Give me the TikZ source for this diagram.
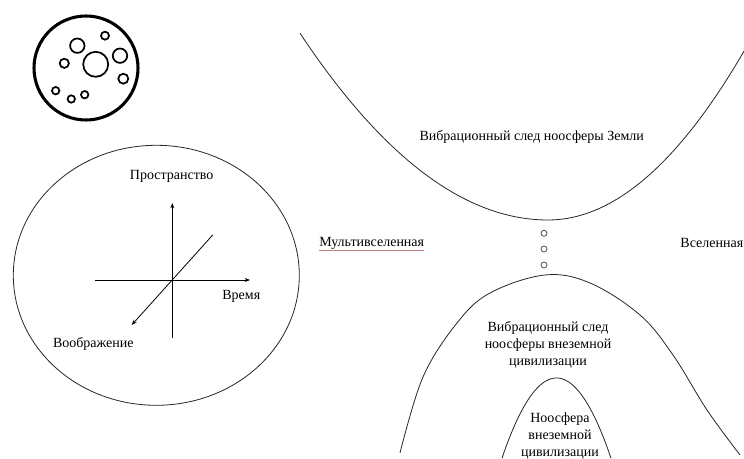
\documentclass[tikz,border=0pt]{standalone}
\usepackage{fontspec}
\setmainfont{Liberation Serif}
\usetikzlibrary{arrows.meta,calc}
\tikzset{
  lbl/.style={inner sep=0pt, font=\fontsize{10.5}{12}\selectfont},
  mlbl/.style={lbl, align=center, font=\fontsize{10.5}{12.8}\selectfont},
  thinline/.style={draw=black!85, line width=0.6pt},
  axis/.style={draw=black, line width=0.6pt},
  axisarrow/.style={axis, -{Stealth[length=4pt,width=3pt]}},
  bubble/.style={draw=black, line width=1.3pt},
  dotc/.style={draw=black!70, line width=0.6pt}
}
\begin{document}
\begin{tikzpicture}[x=0.75pt, y=-0.75pt]
\useasboundingbox (0,0) rectangle (744,459);
% small multiverse circle
\draw[draw=black, line width=2.3pt] (86,68) circle (52);
\draw[bubble] (95.7,64.3) circle (12.5);
\draw[bubble] (77.3,45.7) circle (7.2);
\draw[bubble] (105,35.7) circle (4);
\draw[bubble] (120,55.7) circle (7.2);
\draw[bubble] (64.3,63.3) circle (4.6);
\draw[bubble] (123.3,78.7) circle (5);
\draw[bubble] (55.7,90.7) circle (3.7);
\draw[bubble] (71.3,99) circle (3.7);
\draw[bubble] (84.7,94.7) circle (3.7);
% big ellipse
\draw[thinline] (156.3,275.3) ellipse (143 and 130);
% axes
\coordinate (O) at (172.3,280);
\coordinate (ytop) at (172.3,203);
\coordinate (ybot) at (172.3,338.3);
\coordinate (xl) at (95,280);
\coordinate (xr) at (250,280);
\coordinate (dtop) at (212.7,235);
\coordinate (dbot) at (131.7,325);
\draw[axisarrow] (ybot) -- (ytop);
\draw[axisarrow] (xl) -- (xr);
\draw[axisarrow] (dtop) -- (dbot);
\node[lbl] (space) at (171.7,176) {Пространство};
\node[lbl] (time) at (241.3,296.7) {Время};
\node[lbl] (imag) at (93.3,344) {Воображение};
% upper curve (two half-parabolas meeting at the vertex)
\draw[thinline] plot[domain=300:548, samples=60] (\x, {220-0.00304*(548-\x)*(548-\x)})
  -- plot[domain=548:744, samples=60] (\x, {220-0.0044*(\x-548)*(\x-548)});
\node[lbl] (earth) at (531.7,136.7) {Вибрационный след ноосферы Земли};
% dots
\draw[dotc] (544,233.3) circle (3);
\draw[dotc] (544,249) circle (3);
\draw[dotc] (544,265) circle (3);
% side labels
\node[lbl] (multi) at (371.7,243.3) {Мультивселенная};
\draw[draw=red!50!black, line width=0.4pt, opacity=0.5] ($(multi.south west)+(0,1)$) -- ($(multi.south east)+(0,1)$);
\node[lbl, anchor=east] (univ) at (743.5,243.3) {Вселенная};
% lower big curve
\draw[thinline] plot[smooth, tension=0.6] coordinates {(400,453) (423,377) (457,323) (490,293) (545,275) (590,283) (640,315) (673,355) (707,410) (740,455)};
\node[mlbl] (alien) at (548,345) {Вибрационный след\\ноосферы внеземной\\цивилизации};
% inner curve
\draw[thinline] plot[domain=502:611, samples=80] (\x, {378+0.027*(\x-556.5)*(\x-556.5)});
\node[mlbl] (noos) at (560,436) {Ноосфера\\внеземной\\цивилизации};
\end{tikzpicture}
\end{document}
